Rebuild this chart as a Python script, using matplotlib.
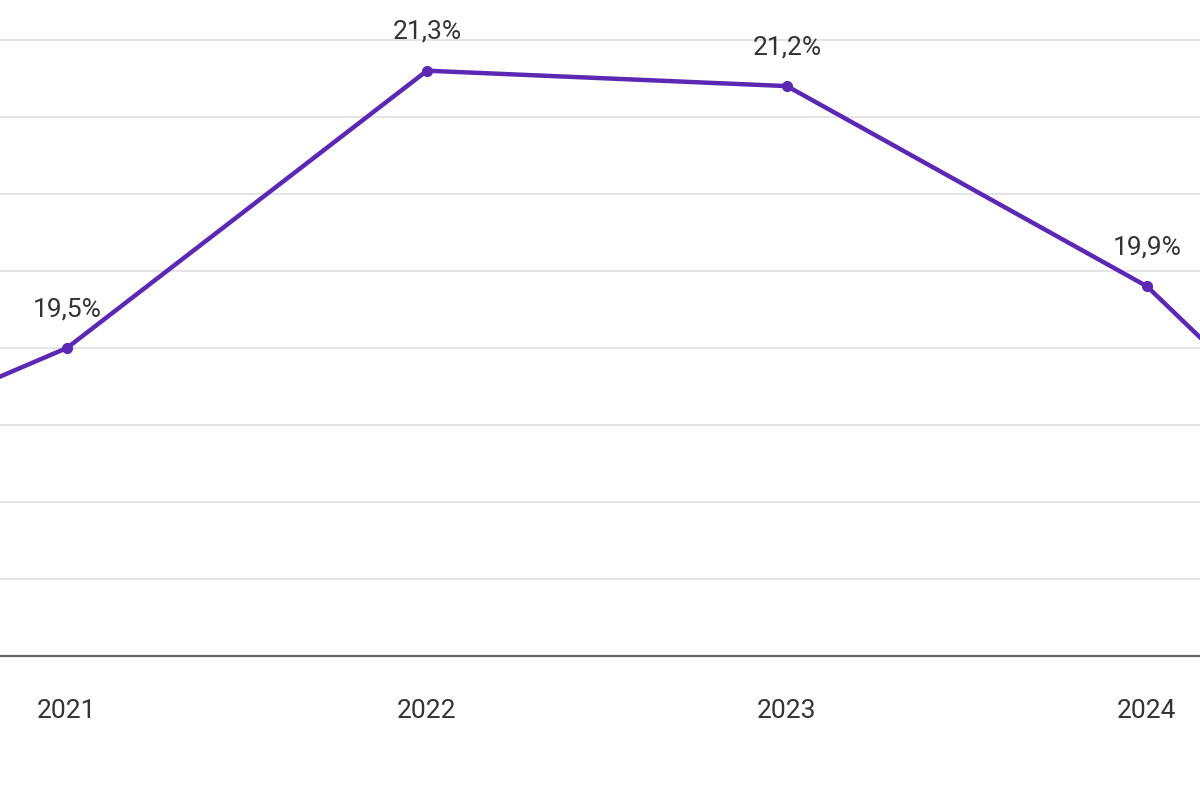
import matplotlib
matplotlib.use('Agg')
import matplotlib.pyplot as plt

# values (points outside the crop are estimated)
years = [2020, 2021, 2022, 2023, 2024, 2025]
values = [18.5, 19.5, 21.3, 21.2, 19.9, 17.65]
labels = ['', '19,5%', '21,3%', '21,2%', '19,9%', '']
tick_years = [2021, 2022, 2023, 2024]
grid_levels = [18.0, 18.5, 19.0, 19.5, 20.0, 20.5, 21.0, 21.5]

plt.rcParams['font.family'] = ['Roboto', 'DejaVu Sans']

fig = plt.figure(figsize=(12, 8), dpi=100)
ax = fig.add_axes([0, 0.18, 1, 0.82])

line_color = '#5b28b4'
ax.plot(years, values, color=line_color, lw=3.2, marker='o', ms=7,
        solid_capstyle='round', zorder=3, clip_on=True)

for x, y, t in zip(years, values, labels):
    if t:
        ax.annotate(t, (x, y), xytext=(0, 28), textcoords='offset points',
                    ha='center', va='center', fontsize=19, color='#333333')

for g in grid_levels:
    ax.axhline(g, color='#e2e2e2', lw=1.3, zorder=1)

ax.set_xlim(2021 - 67 / 360, 2024 + 53 / 360)
ax.set_ylim(17.5, 21.5 + 40 / 154.4)
ax.set_xticks(tick_years)
ax.set_xticklabels([str(y) for y in tick_years], fontsize=19, color='#333333')
ax.tick_params(axis='x', length=0, pad=31)
ax.set_yticks([])

for s in ['top', 'right', 'left']:
    ax.spines[s].set_visible(False)
ax.spines['bottom'].set_color('#666666')
ax.spines['bottom'].set_linewidth(1.6)

fig.savefig('out.png', dpi=100)
